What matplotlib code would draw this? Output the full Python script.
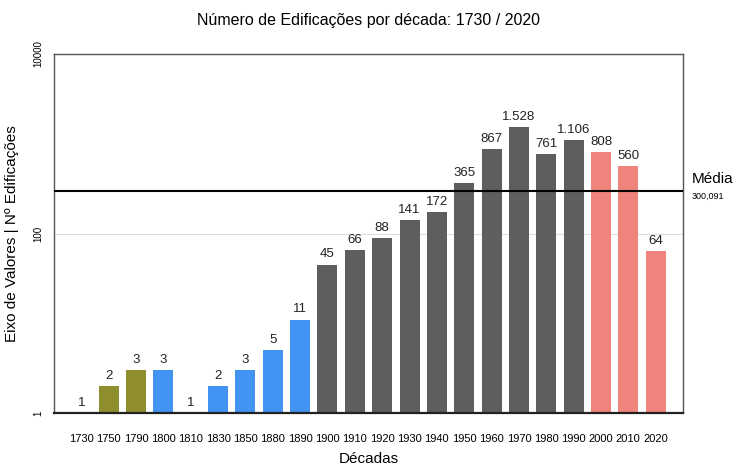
import matplotlib.pyplot as plt
import matplotlib.transforms as mtransforms

# dados
decadas = ['1730', '1750', '1790', '1800', '1810', '1830', '1850', '1880', '1890',
           '1900', '1910', '1920', '1930', '1940', '1950', '1960', '1970', '1980',
           '1990', '2000', '2010', '2020']
edificacoes = [1, 2, 3, 3, 1, 2, 3, 5, 11, 45, 66, 88, 141, 172, 365, 867, 1528,
               761, 1106, 808, 560, 64]
rotulos = ['1', '2', '3', '3', '1', '2', '3', '5', '11', '45', '66', '88', '141',
           '172', '365', '867', '1.528', '761', '1.106', '808', '560', '64']
grupos = ['olive', 'olive', 'olive', 'blue', 'blue', 'blue', 'blue', 'blue', 'blue',
          'gray', 'gray', 'gray', 'gray', 'gray', 'gray', 'gray', 'gray', 'gray',
          'gray', 'salmon', 'salmon', 'salmon']
media = 300.091

cores = {'olive': '#8E8E2F', 'blue': '#4393F2', 'gray': '#5E5E5E', 'salmon': '#F0837C'}

plt.rcParams['font.family'] = ['Liberation Sans', 'DejaVu Sans']

fig = plt.figure(figsize=(7.36, 4.66), dpi=100)
ax = fig.add_axes([54 / 736, 1 - 413 / 466, 629 / 736, 359 / 466])

x = list(range(len(decadas)))
ax.bar(x, edificacoes, width=0.73, color=[cores[g] for g in grupos], zorder=2)
ax.set_yscale('log')
ax.set_ylim(1, 10000)
ax.set_xlim(-1, len(decadas))

for xi, v, r in zip(x, edificacoes, rotulos):
    ax.annotate(r, (xi, v), xytext=(0, 3), textcoords='offset points',
                ha='center', va='bottom', fontsize=9.5, color='#222222')

ax.axhline(media, color='black', lw=1.5, zorder=3)
tr = mtransforms.blended_transform_factory(ax.transAxes, ax.transData)
ax.text(1.014, media * 1.12, 'Média', transform=tr, fontsize=11, va='bottom', ha='left')
ax.text(1.014, media * 0.97, '300,091', transform=tr, fontsize=6.5, va='top', ha='left')

ax.set_yticks([1, 100, 10000])
ax.set_yticklabels(['1', '100', '10000'], rotation=90, va='center', fontsize=7)
ax.minorticks_off()
ax.yaxis.grid(True, color='#DDDDDD', lw=0.8, zorder=0)
ax.tick_params(axis='both', length=0)
ax.tick_params(axis='y', pad=8)
ax.set_xticks(x)
ax.set_xticklabels(decadas, fontsize=8, family=['Liberation Sans Narrow', 'Liberation Sans'])
ax.tick_params(axis='x', pad=15)

for s in ['left', 'right', 'top']:
    ax.spines[s].set_color('#555555')
    ax.spines[s].set_linewidth(1.0)
ax.spines['bottom'].set_color('#222222')
ax.spines['bottom'].set_linewidth(1.6)

ax.set_title('Número de Edificações por década: 1730 / 2020', fontsize=11.5, pad=21)
ax.set_ylabel('Eixo de Valores | Nº Edificações', fontsize=11, labelpad=10)
ax.set_xlabel('Décadas', fontsize=11, labelpad=6)

fig.savefig('out.png', dpi=100)
